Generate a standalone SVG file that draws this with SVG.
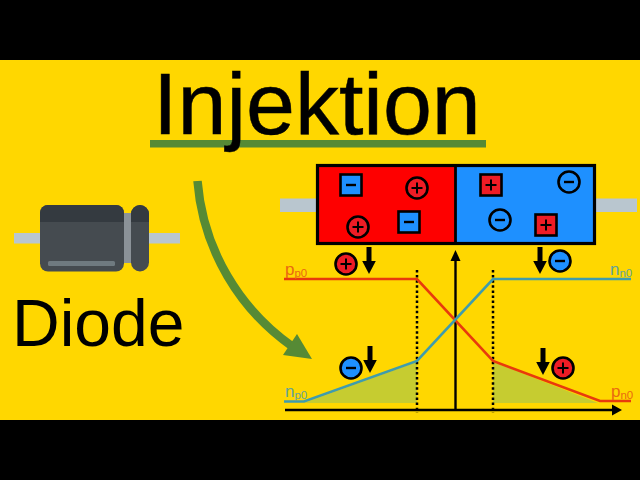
<svg xmlns="http://www.w3.org/2000/svg" width="640" height="480" viewBox="0 0 640 480">
<defs>
<style>
text{font-family:"Liberation Sans",Arial,sans-serif}
.ch{stroke:#000;stroke-width:2.6}
.r{fill:#ee1c25}.b{fill:#1e90ff}
.sym{stroke:#000;stroke-width:2;fill:none}
.lead{fill:#b9c6cf}
.red{fill:none;stroke:#e83a0c;stroke-width:2.6}
.blue{fill:none;stroke:#3f9cad;stroke-width:2.6}
.dot{stroke:#000;stroke-width:2.5;stroke-dasharray:2.5 2.6;fill:none}
.shade{fill:#c6cc30}
.pl{fill:#ea6a10;font-size:17px}.nl{fill:#62a39a;font-size:17px}
.sub{font-size:11.5px}
</style>
<g id="plus"><line class="sym" x1="-5.500" y1="0" x2="5.500" y2="0"/><line class="sym" x1="0" y1="-5.500" x2="0" y2="5.500"/></g>
<g id="minus"><line class="sym" x1="-5" y1="0" x2="5" y2="0" style="stroke-width:2.400"/></g>
<g id="cp"><circle class="ch r" r="10.500"/><use href="#plus"/></g>
<g id="cm"><circle class="ch b" r="10.500"/><use href="#minus"/></g>
<g id="sp"><rect class="ch r" x="-10.500" y="-10.500" width="21" height="21"/><use href="#plus"/></g>
<g id="sm"><rect class="ch b" x="-10.500" y="-10.500" width="21" height="21"/><use href="#minus"/></g>
<g id="down"><line x1="0" y1="0" x2="0" y2="15" stroke="#000" stroke-width="5"/><polygon points="-6.800,14 6.800,14 0,27" fill="#000"/></g>
</defs>
<rect width="640" height="480" fill="#ffd700"/>
<rect width="640" height="60" fill="#000"/>
<rect y="420" width="640" height="60" fill="#000"/>
<g id="title">
<rect x="150" y="140" width="336" height="7.500" fill="#568a35"/>
<text x="153" y="134" font-size="88" stroke="#000" stroke-width="0.500">Injektion</text>
</g>
<g id="diode">
<rect class="lead" x="14" y="233" width="166" height="10.500"/>
<rect x="124" y="213" width="8" height="50" fill="#8b9298"/>
<rect x="40" y="205" width="84" height="66.500" rx="8" fill="#454b50"/>
<path d="M40 222V213a8 8 0 0 1 8-8h68a8 8 0 0 1 8 8v9z" fill="#343a40"/>
<rect x="48" y="261" width="67" height="5" rx="1.500" fill="#6f7a80"/>
<rect x="131" y="205" width="18" height="66.500" rx="9" fill="#454b50"/>
<path d="M131 222v-8a9 9 0 0 1 18 0v8z" fill="#343a40"/>
<text x="12" y="346" font-size="66">Diode</text>
</g>
<g id="connectors">
<path d="M197.500 181C203 250 240 310 293 347" fill="none" stroke="#568a35" stroke-width="8.500"/>
<polygon points="312,359 283,355 297,334" fill="#568a35"/>
</g>
<g id="pn-junction">
<rect class="lead" x="280" y="198.500" width="38" height="13.500"/>
<rect class="lead" x="594" y="198.500" width="43" height="13.500"/>
<rect x="317.500" y="165.500" width="138" height="78" fill="#fe0000"/>
<rect x="455.500" y="165.500" width="139" height="78" fill="#1e90ff"/>
<rect x="317.500" y="165.500" width="277" height="78" fill="none" stroke="#000" stroke-width="3.200"/>
<line x1="455.500" y1="165" x2="455.500" y2="244" stroke="#000" stroke-width="2.800"/>
<use href="#sm" x="351" y="185"/>
<use href="#cp" x="417" y="188"/>
<use href="#cp" x="358" y="227"/>
<use href="#sm" x="409" y="222"/>
<use href="#sp" x="491" y="185"/>
<use href="#cm" x="569" y="182"/>
<use href="#cm" x="500" y="220"/>
<use href="#sp" x="546" y="225"/>
</g>
<g id="plot">
<polygon class="shade" points="304,403 417,362 417,403"/>
<polygon class="shade" points="493,362 598,403 493,403"/>
<line class="dot" x1="417" y1="270" x2="417" y2="413"/>
<line class="dot" x1="493" y1="270" x2="493" y2="413"/>
<line x1="285" y1="410" x2="615" y2="410" stroke="#000" stroke-width="2.400"/>
<polygon points="612,404.500 622,410 612,415.500" fill="#000"/>
<line x1="455.500" y1="410" x2="455.500" y2="258" stroke="#000" stroke-width="2.400"/>
<polygon points="450.500,261 455.500,250 460.500,261" fill="#000"/>
<polyline class="red" points="284,279 417,279 493,361 600,401 631,401"/>
<polyline class="blue" points="284,401.500 304,401.500 417,361 493,279 631,279"/>
<text class="pl" x="285" y="275">p<tspan class="sub" dy="2">p0</tspan></text>
<text class="nl" x="285" y="397">n<tspan class="sub" dy="2">p0</tspan></text>
<text class="nl" x="610" y="275">n<tspan class="sub" dy="2">n0</tspan></text>
<text class="pl" x="611" y="397">p<tspan class="sub" dy="2">n0</tspan></text>
<use href="#cp" x="346" y="264"/>
<use href="#down" x="369" y="247"/>
<use href="#cm" x="560" y="261"/>
<use href="#down" x="540" y="247"/>
<use href="#cm" x="351" y="368"/>
<use href="#down" x="370" y="346"/>
<use href="#cp" x="563" y="368"/>
<use href="#down" x="543" y="348"/>
</g>
</svg>
